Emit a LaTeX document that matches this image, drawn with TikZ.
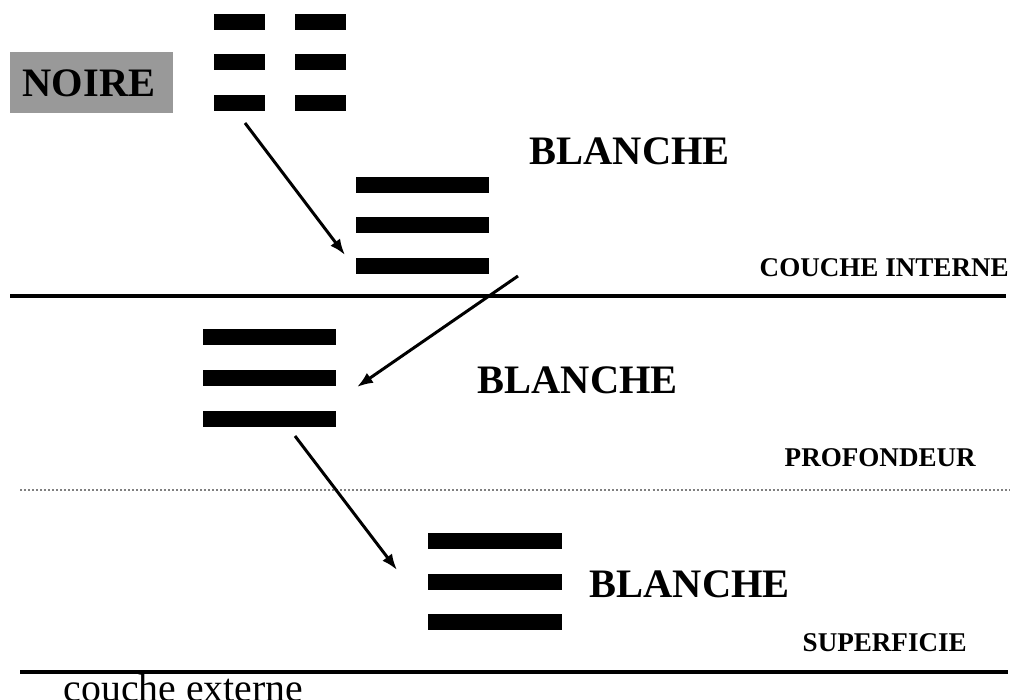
\documentclass[tikz,border=0pt]{standalone}
\usepackage{fontspec}
\setmainfont{Liberation Serif}
\usetikzlibrary{arrows.meta}

\tikzset{
	bigword/.style={inner sep=0pt, anchor=base west, font=\fontsize{11.5}{13}\selectfont\bfseries},
	smallword/.style={inner sep=0pt, anchor=base west, font=\fontsize{7.7}{9}\selectfont\bfseries},
	hop/.style={line width=0.85pt, -{Latex[length=0.16cm,width=0.12cm]}},
	layer/.style={line width=1.2pt}
}

\begin{document}
\begin{tikzpicture}[x=0.01cm, y=-0.01cm]
\useasboundingbox (0,0) rectangle (1015,700);

% noire: broken lines
\foreach \y in {14,54,95}
	\foreach \x in {214,295}
		\fill (\x,\y) rectangle ++(51,16);
\fill[black!40] (10,52) rectangle (173,113);
\node (noire) [bigword, anchor=base] at (89,97) {NOIRE};

% blanche: full lines
\foreach \y in {177,217,258}
	\fill (356,\y) rectangle ++(133,16);
\foreach \y in {329,370,411}
	\fill (203,\y) rectangle ++(133,16);
\foreach \y in {533,574,614}
	\fill (428,\y) rectangle ++(134,16);

\node (b1) [bigword] at (529,164) {BLANCHE};
\node (b2) [bigword] at (477,393) {BLANCHE};
\node (b3) [bigword] at (589,597) {BLANCHE};

% layers
\draw[layer] (10,296) -- (1006,296);
\draw[gray, line width=0.3pt, dash pattern=on 0.02cm off 0.02cm] (20,490) -- (1010,490);
\draw[line width=1.3pt] (20,672) -- (1008,672);

\node (interne) [smallword] at (759,276) {COUCHE INTERNE};
\node (prof) [smallword] at (784,466) {PROFONDEUR};
\node (surf) [smallword] at (802,651) {SUPERFICIE};
\node (externe) [inner sep=0pt, anchor=base west, font=\fontsize{11.3}{13}\selectfont] at (63,701) {couche externe};

% arrows
\coordinate (s1) at (245,123);
\coordinate (t1) at (345,255);
\coordinate (s2) at (518,276);
\coordinate (t2) at (357,387);
\coordinate (s3) at (295,436);
\coordinate (t3) at (397,570);
\draw[hop] (s1) -- (t1);
\draw[hop] (s2) -- (t2);
\draw[hop] (s3) -- (t3);
\end{tikzpicture}
\end{document}
